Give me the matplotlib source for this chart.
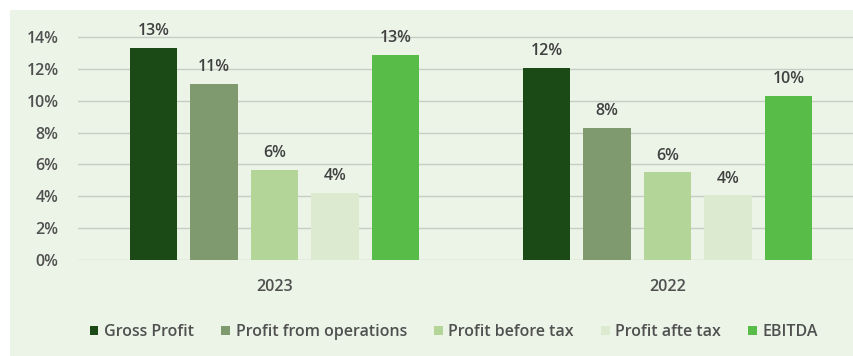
import matplotlib.pyplot as plt
from matplotlib.patches import Rectangle
import numpy as np

years = ["2023", "2022"]
metrics = ["Gross Profit", "Profit from operations", "Profit before tax",
           "Profit afte tax", "EBITDA"]
values = {
    "Gross Profit": [13.3, 12.05],
    "Profit from operations": [11.05, 8.3],
    "Profit before tax": [5.65, 5.5],
    "Profit afte tax": [4.2, 4.05],
    "EBITDA": [12.9, 10.3],
}
labels = {
    "Gross Profit": ["13%", "12%"],
    "Profit from operations": ["11%", "8%"],
    "Profit before tax": ["6%", "6%"],
    "Profit afte tax": ["4%", "4%"],
    "EBITDA": ["13%", "10%"],
}
colors = ["#1b4a17", "#7e9a6e", "#b3d598", "#dcebd0", "#58bd48"]
yticks = [0, 2, 4, 6, 8, 10, 12, 14]

bg = "#ebf4e7"
txt = "#505050"
plt.rcParams["font.family"] = ["Open Sans", "DejaVu Sans"]

W, H = 854, 356
fig = plt.figure(figsize=(W / 100, H / 100), dpi=100)
fig.patch.set_facecolor("white")
# light green panel behind the chart
fig.patches.append(Rectangle((10 / W, 0), 1, 1 - 10 / H,
                             transform=fig.transFigure, facecolor=bg,
                             edgecolor="none", zorder=-1))

ymax = 14.6
px_per_unit = (260 - 37) / 14
ax = fig.add_axes([78 / W, (H - 260) / H, (W - 78) / W, ymax * px_per_unit / H])
ax.set_facecolor("none")

x = np.arange(len(years))
width = 0.12
pitch = 0.154
for i, (m, c) in enumerate(zip(metrics, colors)):
    pos = x + (i - 2) * pitch
    bars = ax.bar(pos, values[m], width, color=c, label=m, zorder=3)
    for b, t in zip(bars, labels[m]):
        ax.text(b.get_x() + b.get_width() / 2, b.get_height() + 0.55, t,
                ha="center", va="bottom", fontsize=11.5, color="#404040",
                fontweight="semibold")

ax.set_xlim(-0.5, -0.5 + (W - 78) / 393)
ax.set_ylim(0, ymax)
ax.set_yticks(yticks)
ax.set_yticklabels([f"{v}%" for v in yticks], fontsize=11.5, color=txt,
                   fontweight="semibold")
ax.set_xticks(x)
ax.set_xticklabels(years, fontsize=11.5, color=txt, fontweight="semibold")
ax.tick_params(axis="y", length=0, pad=14)
ax.tick_params(axis="x", length=0, pad=14)
ax.yaxis.grid(True, color="#c8ccc6", linewidth=1, zorder=0)
for s in ax.spines.values():
    s.set_visible(False)

leg = ax.legend(loc="center", bbox_to_anchor=((454 - 78) / (W - 78), -72 / (ymax * px_per_unit)),
                ncol=5, frameon=False, fontsize=11.5, handlelength=0.55,
                handleheight=0.55, handletextpad=0.35, columnspacing=1.7,
                labelcolor=txt, prop={"size": 11.5, "weight": "semibold"})

fig.savefig("out.png", dpi=100, facecolor=fig.get_facecolor())
